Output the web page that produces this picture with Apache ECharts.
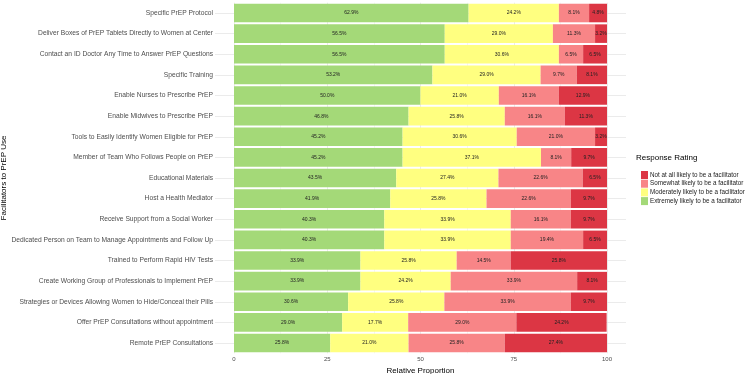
<!DOCTYPE html>
<html>
<head>
<meta charset="utf-8">
<script src="https://cdn.jsdelivr.net/npm/echarts@6/dist/echarts.min.js"></script>
<style>
  html, body { margin: 0; padding: 0; background: #fff; }
  #main { width: 750px; height: 374px; }
</style>
</head>
<body>
<div id="main"></div>
<script>
var categories = [
  'Specific PrEP Protocol',
  'Deliver Boxes of PrEP Tablets Directly to Women at Center',
  'Contact an ID Doctor Any Time to Answer PrEP Questions',
  'Specific Training',
  'Enable Nurses to Prescribe PrEP',
  'Enable Midwives to Prescribe PrEP',
  'Tools to Easily Identify Women Eligible for PrEP',
  'Member of Team Who Follows People on PrEP',
  'Educational Materials',
  'Host a Health Mediator',
  'Receive Support from a Social Worker',
  'Dedicated Person on Team to Manage Appointments and Follow Up',
  'Trained to Perform Rapid HIV Tests',
  'Create Working Group of Professionals to Implement PrEP',
  'Strategies or Devices Allowing Women to Hide/Conceal their Pills',
  'Offer PrEP Consultations without appointment',
  'Remote PrEP Consultations'
];
var extremely = [62.9, 56.5, 56.5, 53.2, 50.0, 46.8, 45.2, 45.2, 43.5, 41.9, 40.3, 40.3, 33.9, 33.9, 30.6, 29.0, 25.8];
var moderately = [24.2, 29.0, 30.6, 29.0, 21.0, 25.8, 30.6, 37.1, 27.4, 25.8, 33.9, 33.9, 25.8, 24.2, 25.8, 17.7, 21.0];
var somewhat = [8.1, 11.3, 6.5, 9.7, 16.1, 16.1, 21.0, 8.1, 22.6, 22.6, 16.1, 19.4, 14.5, 33.9, 33.9, 29.0, 25.8];
var notAtAll = [4.8, 3.2, 6.5, 8.1, 12.9, 11.3, 3.2, 9.7, 6.5, 9.7, 9.7, 6.5, 25.8, 8.1, 9.7, 24.2, 27.4];
var levels = [
  'Not at all likely to be a facilitator',
  'Somewhat likely to be a facilitator',
  'Moderately likely to be a facilitator',
  'Extremely likely to be a facilitator'
];

var font = 'Liberation Sans, Arial, sans-serif';
var myChart = echarts.init(document.getElementById('main'), null, { renderer: 'canvas' });

function barSeries(name, data, color) {
  return {
    name: name,
    type: 'bar',
    stack: 'all',
    xAxisIndex: 0,
    yAxisIndex: 0,
    barCategoryGap: '10%',
    itemStyle: { color: color },
    label: {
      show: true,
      position: 'inside',
      fontFamily: font,
      fontSize: 5,
      color: '#222',
      formatter: function (p) { return p.value.toFixed(1) + '%'; }
    },
    emphasis: { disabled: true },
    data: data
  };
}

var option = {
  animation: false,
  textStyle: { fontFamily: font },
  grid: [
    { left: 234, width: 373, top: 2.7, height: 350.6, containLabel: false, outerBoundsMode: 'none' },
    { left: 215, width: 411, top: 13, height: 330, containLabel: false, outerBoundsMode: 'none' }
  ],
  xAxis: [
    {
      type: 'value',
      gridIndex: 0,
      min: 0,
      max: 100,
      interval: 12.5,
      name: 'Relative Proportion',
      nameLocation: 'middle',
      nameGap: 12,
      nameTextStyle: { fontFamily: font, fontSize: 8, color: '#000' },
      axisLine: { show: false },
      axisTick: { show: false },
      axisLabel: {
        fontFamily: font,
        fontSize: 6,
        color: '#4d4d4d',
        margin: 3,
        formatter: function (v) { return v % 25 === 0 ? String(v) : ''; }
      },
      splitLine: { show: true, lineStyle: { color: ['#e3e3e3', '#f0f0f0'], width: 0.7 } }
    },
    {
      type: 'value',
      gridIndex: 1,
      show: false,
      splitLine: { show: false }
    }
  ],
  yAxis: [
    {
      type: 'category',
      gridIndex: 0,
      inverse: true,
      data: categories,
      name: 'Facilitators to PrEP Use',
      nameLocation: 'middle',
      nameRotate: 90,
      nameGap: 223,
      nameTextStyle: { fontFamily: font, fontSize: 8, color: '#000' },
      axisLine: { show: false },
      axisTick: { show: false },
      axisLabel: { fontFamily: font, fontSize: 6.7, color: '#4d4d4d', margin: 21 },
      splitLine: { show: false }
    },
    {
      type: 'category',
      gridIndex: 1,
      inverse: true,
      boundaryGap: false,
      data: categories,
      axisLine: { show: false },
      axisTick: { show: false },
      axisLabel: { show: false },
      splitLine: { show: true, lineStyle: { color: '#e3e3e3', width: 0.7 } }
    }
  ],
  legend: {
    orient: 'vertical',
    left: 636,
    top: 166,
    itemWidth: 7,
    itemHeight: 8,
    itemGap: 0.7,
    icon: 'rect',
    data: levels,
    textStyle: { fontFamily: font, fontSize: 6.3, color: '#222', padding: [0, 0, 0, -3] },
    selectedMode: false
  },
  graphic: [
    {
      type: 'text',
      left: 636,
      top: 154,
      style: { text: 'Response Rating', fontFamily: font, fontSize: 8, fill: '#000' }
    }
  ],
  series: [
    barSeries(levels[3], extremely, '#a4d978'),
    barSeries(levels[2], moderately, '#ffff80'),
    barSeries(levels[1], somewhat, '#f88587'),
    barSeries(levels[0], notAtAll, '#dc3644')
  ]
};

myChart.setOption(option);
</script>
</body>
</html>
